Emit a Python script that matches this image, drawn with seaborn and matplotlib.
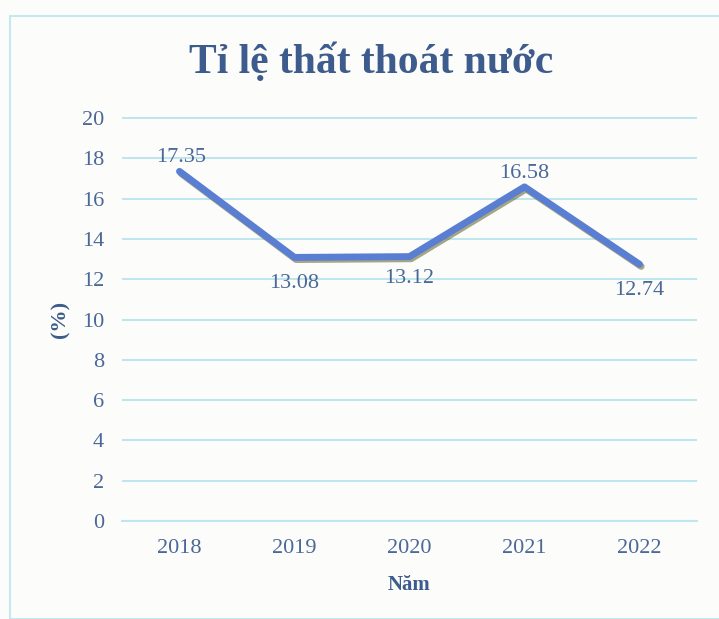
import matplotlib
matplotlib.use("Agg")
import matplotlib.pyplot as plt
import matplotlib.patheffects as pe
from matplotlib.patches import Rectangle
import seaborn as sns
import pandas as pd

years = ["2018", "2019", "2020", "2021", "2022"]
values = [17.35, 13.08, 13.12, 16.58, 12.74]
yticks = [0, 2, 4, 6, 8, 10, 12, 14, 16, 18, 20]
title = "Tỉ lệ thất thoát nước"
xlabel = "Năm"
ylabel = "(%)"

df = pd.DataFrame({"year": years, "value": values})

sns.set_theme(style="white")
plt.rcParams["font.family"] = ["Liberation Serif", "DejaVu Serif"]

txt_color = "#4a6898"
title_color = "#3d5b8c"
grid_color = "#bfe6ee"
line_color = "#5a7fd2"

fig = plt.figure(figsize=(7.19, 6.19), dpi=100)
fig.patch.set_facecolor("#fcfdfa")
fig.patches.append(Rectangle((10/719, 0.0), 1.0, 1 - 16/619, transform=fig.transFigure,
                             fill=False, edgecolor="#c4e8ef", linewidth=1.5))
ax = fig.add_axes([122/719, 1 - 521/619, 575/719, 404/619])
ax.set_facecolor("none")

x = list(range(len(years)))
sns.lineplot(x=x, y=df["value"], ax=ax, color=line_color, linewidth=5,
             path_effects=[pe.SimpleLineShadow(offset=(1.2, -1.5), shadow_color="#6e6c38", alpha=0.6),
                           pe.Normal()])

ax.set_xlim(-0.5, 4.5)
ax.set_ylim(0, 20.05)
ax.set_yticks(yticks)
ax.set_yticklabels([str(v) for v in yticks], fontsize=16, color=txt_color)
ax.set_xticks(x)
ax.set_xticklabels(years, fontsize=16, color=txt_color)
ax.tick_params(axis="x", length=0, pad=13)
ax.tick_params(axis="y", length=0, pad=13)
ax.set_xticks([i - 0.5 for i in range(len(years) + 1)], minor=True)
ax.tick_params(axis="x", which="minor", length=5, color=grid_color, width=1.2, direction="out")

ax.grid(axis="y", color=grid_color, linewidth=1.5)
for s in ["top", "right", "left"]:
    ax.spines[s].set_visible(False)
ax.spines["bottom"].set_color(grid_color)
ax.spines["bottom"].set_linewidth(1.5)

offsets = [(1, 10), (0, -19), (0, -16), (0, 10), (0, -19)]
for xi, v, off in zip(x, values, offsets):
    ax.annotate(f"{v:.2f}", (xi, v), xytext=off, textcoords="offset points",
                ha="center", va="center", fontsize=16, color=txt_color)

ax.set_xlabel(xlabel, fontsize=15, fontweight="bold", color=title_color, labelpad=12)
ax.set_ylabel(ylabel, fontsize=16, fontweight="bold", color=title_color, labelpad=8)
fig.text(0.516, 1 - 62/619, title, ha="center", va="center", fontsize=30,
         fontweight="bold", color=title_color)

fig.savefig("out.png", dpi=100, facecolor=fig.get_facecolor())
